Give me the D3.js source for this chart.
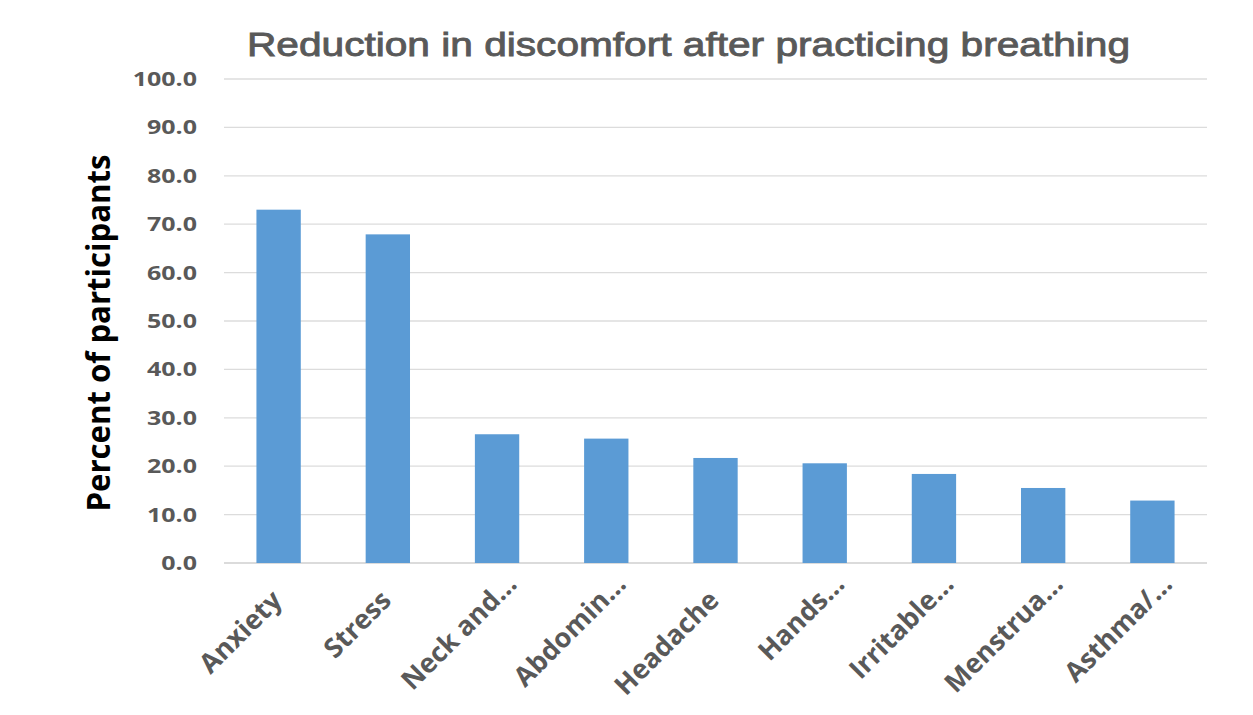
<!DOCTYPE html>
<html>
<head>
<meta charset="utf-8">
<script src="https://cdn.jsdelivr.net/npm/d3@7"></script>
<style>
  body { margin: 0; background: #fff; }
  svg { display: block; }
</style>
</head>
<body>
<svg id="chart" width="1253" height="715"></svg>
<script>
const categories = ['Anxiety', 'Stress', 'Neck and', 'Abdomin', 'Headache', 'Hands', 'Irritable', 'Menstrua', 'Asthma/'];
const truncated = [false, false, true, true, false, true, true, true, true];
const values = [73.0, 67.9, 26.6, 25.7, 21.7, 20.6, 18.4, 15.5, 12.9];
const yTicks = [0, 10, 20, 30, 40, 50, 60, 70, 80, 90, 100];

// the source picture is a little wider than tall, text is stretched to match
const stretch = 1.19;

const svg = d3.select('#chart');
const margin = {left: 224, right: 46, top: 79, bottom: 152};
const width = 1253 - margin.left - margin.right;
const height = 715 - margin.top - margin.bottom;

const x = d3.scaleBand()
    .domain(categories)
    .range([0, width])
    .paddingInner(0.594)
    .paddingOuter(0.297);

const y = d3.scaleLinear()
    .domain([0, 100])
    .range([height, 0]);

const g = svg.append('g')
    .attr('transform', `translate(${margin.left},${margin.top})`);

// gridlines
g.append('g')
    .selectAll('line')
    .data(yTicks)
    .enter()
    .append('line')
    .attr('x1', 0)
    .attr('x2', width)
    .attr('y1', (d) => y(d))
    .attr('y2', (d) => y(d))
    .attr('stroke', (d) => d === 0 ? '#cfcfcf' : '#dcdcdc')
    .attr('stroke-width', 1.3);

// y axis labels
const yAxis = d3.axisLeft(y)
    .tickValues(yTicks)
    .tickFormat(d3.format('.1f'))
    .tickSize(0)
    .tickPadding(27);

g.append('g')
    .call(yAxis)
    .call((sel) => sel.select('.domain').remove())
    .selectAll('text')
    .attr('font-family', 'Open Sans, sans-serif')
    .attr('font-weight', 'bold')
    .attr('font-size', 20)
    .attr('fill', '#595959')
    .each(function() {
        const w = this.getComputedTextLength();
        d3.select(this).attr('textLength', w * 1.25).attr('lengthAdjust', 'spacingAndGlyphs');
    });

// bars
g.append('g')
    .selectAll('rect')
    .data(values)
    .enter()
    .append('rect')
    .attr('x', (d, i) => x(categories[i]))
    .attr('y', (d) => y(d))
    .attr('width', x.bandwidth())
    .attr('height', (d) => y(0) - y(d))
    .attr('fill', '#5b9bd5');

// category labels, the ellipsis hangs past the anchor like in Excel
const labels = g.append('g')
    .selectAll('g')
    .data(categories)
    .enter()
    .append('g')
    .attr('transform', (d) => `translate(${x(d) + x.bandwidth() / 2 + 5},${height + 39}) rotate(-45)`);

labels.append('text')
    .attr('font-family', 'Open Sans, sans-serif')
    .attr('font-weight', 'bold')
    .attr('font-size', 27)
    .attr('fill', '#595959')
    .text((d, i) => truncated[i] ? d + '\u2026' : d)
    .each(function(d, i) {
        const sel = d3.select(this);
        let w = this.getComputedTextLength();
        if (truncated[i]) {
            const probe = sel.clone().text(d);
            w = probe.node().getComputedTextLength();
            probe.remove();
        }
        sel.attr('x', -w);
    });

// title
svg.append('text')
    .attr('x', 247)
    .attr('y', 56)
    .attr('font-family', 'Liberation Sans, Arial, sans-serif')
    .attr('font-size', 34)
    .attr('fill', '#595959')
    .attr('stroke', '#595959')
    .attr('stroke-width', 0.9)
    .attr('textLength', 883)
    .attr('lengthAdjust', 'spacingAndGlyphs')
    .text('Reduction in discomfort after practicing breathing');

// y axis title
svg.append('text')
    .attr('transform', `translate(110,333) scale(${stretch},1) rotate(-90)`)
    .attr('text-anchor', 'middle')
    .attr('font-family', 'Open Sans, sans-serif')
    .attr('font-weight', 'bold')
    .attr('font-size', 27)
    .attr('fill', '#000')
    .attr('textLength', 357)
    .attr('lengthAdjust', 'spacingAndGlyphs')
    .text('Percent of participants');
</script>
</body>
</html>
